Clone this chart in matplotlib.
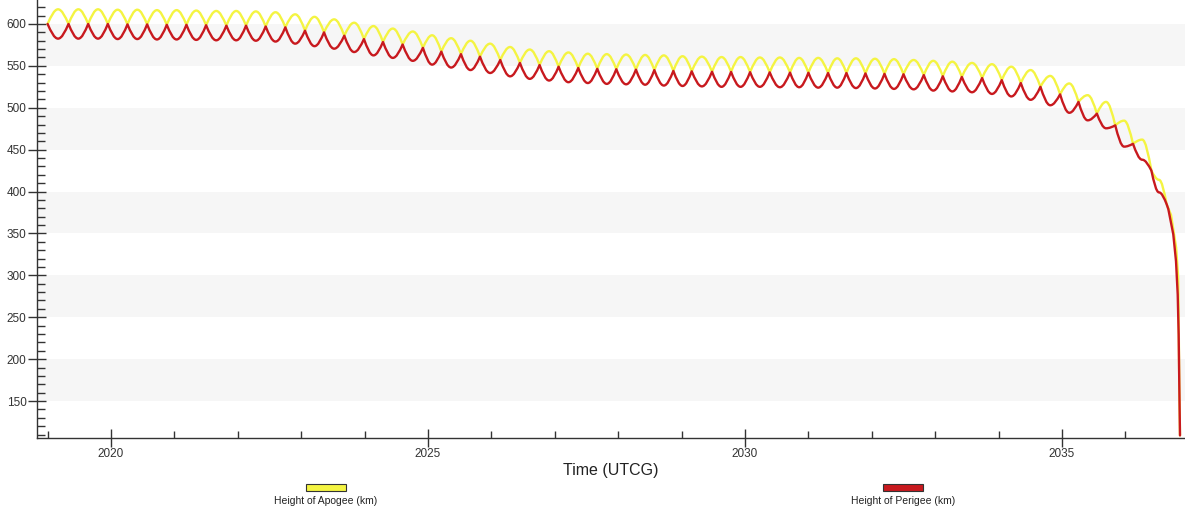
import matplotlib
matplotlib.use("Agg")
import matplotlib.pyplot as plt
from matplotlib.path import Path
from matplotlib.patches import PathPatch, Rectangle
from matplotlib.ticker import MultipleLocator

# ---------------- data ----------------
# times (decimal years) where apogee and perigee curves touch (e ~ 0)
cusp_year = [2019.00, 2019.33, 2019.64, 2019.95, 2020.26, 2020.57, 2020.88,
             2021.19, 2021.50, 2021.82, 2022.13, 2022.44, 2022.75, 2023.06,
             2023.36, 2023.68, 2023.99, 2024.29, 2024.60, 2024.92, 2025.21,
             2025.52, 2025.82, 2026.14, 2026.45, 2026.76, 2027.06, 2027.37,
             2027.67, 2027.97, 2028.28, 2028.57, 2028.87, 2029.16, 2029.48,
             2029.78, 2030.08, 2030.39, 2030.71, 2031.00, 2031.31, 2031.60,
             2031.90, 2032.20, 2032.50, 2032.82, 2033.12, 2033.42, 2033.74,
             2034.05, 2034.35, 2034.66, 2034.97, 2035.26, 2035.55, 2035.84,
             2036.12, 2036.41, 2036.65]
# altitude (km) at those touching points
cusp_alt = [600, 600, 600, 600, 599.5, 599.5, 599, 599, 598.5, 598, 598, 597,
            596, 592, 590, 586, 582, 578.5, 575.5, 571.5, 567, 564, 561, 557,
            553.5, 551, 549, 547.5, 546.5, 546, 545.5, 545, 544, 543.5, 543,
            542.8, 542.5, 542.3, 542, 541.8, 541.5, 541.5, 541, 540.5, 540,
            539, 537.6, 536.8, 535.5, 533, 529.5, 525, 516, 507, 493, 479,
            457, 425, 385]
# apogee maximum of each lobe (km)
apogee_peak = [617.5, 617.5, 617.5, 617, 617, 616.5, 616.5, 616, 615.5, 615.5,
               615, 614, 611.5, 608.5, 605.5, 601.5, 597.5, 594.5, 591, 586.5,
               583, 580, 576.5, 572.5, 569.5, 567.5, 566, 564.5, 564, 563.5,
               563, 562.5, 561.5, 561, 560.5, 560.5, 560, 560, 559.5, 559.5,
               559, 559, 558.5, 558, 557, 556, 555, 553.5, 552, 549, 545, 538,
               529, 515, 507, 484.6, 462, 414]
# perigee minimum of each lobe (km)
perigee_min = [582.5, 582.5, 582.5, 582, 582, 581.5, 581.5, 581, 580.5, 580.5,
               580, 579, 576.5, 573.5, 570.5, 566.5, 562.5, 559.5, 556, 551.5,
               548, 545, 541.5, 537.5, 534.5, 532.5, 530.5, 529.5, 528.5, 528,
               527.5, 526.5, 526, 525.5, 525, 525, 525, 524.5, 524.5, 524, 524,
               523.5, 523, 522.5, 522, 520.5, 519.5, 518.5, 516.5, 513.5, 509.5,
               503, 494, 485, 475.5, 453.6, 438, 399]
# final re-entry descent
apogee_tail_year = [2036.72, 2036.80, 2036.832, 2036.842, 2036.850, 2036.861]
apogee_tail_alt = [372, 333, 298, 229, 169, 109]
perigee_tail_year = [2036.677, 2036.755, 2036.798, 2036.825, 2036.840, 2036.850, 2036.861]
perigee_tail_alt = [379, 349, 317, 277, 229, 169, 109]

x_major_ticks = [2020, 2025, 2030, 2035]
series_labels = ["Height of Apogee (km)", "Height of Perigee (km)"]
apogee_color = "#F4F442"
perigee_color = "#C8191E"

plt.rcParams['font.family'] = ['Liberation Sans', 'DejaVu Sans']

fig = plt.figure(figsize=(11.85, 5.09), dpi=100)
ax = fig.add_axes([37 / 1185, 71 / 509, 1148 / 1185, 438 / 509])

xmin, xmax = 2018.833, 2036.94
ymin, ymax = 105.9, 628.6
ax.set_xlim(xmin, xmax)
ax.set_ylim(ymin, ymax)

# alternating background bands
for lo in range(150, 600, 100):
    ax.axhspan(lo, lo + 50, color="#F6F6F6", zorder=0, lw=0)


def lobe_path(years, cusps, extremes, tail_x, tail_y):
    verts = [(years[0], cusps[0])]
    codes = [Path.MOVETO]
    for i in range(len(extremes)):
        t0, t1 = years[i], years[i + 1]
        m0, m1 = cusps[i], cusps[i + 1]
        p = extremes[i]
        half = (t1 - t0) / 2
        tm = t0 + half
        verts += [(t0 + 0.3343 * half, m0 + 0.5251 * (p - m0)),
                  (t0 + 0.64 * half, p), (tm, p)]
        verts += [(tm + 0.36 * half, p),
                  (tm + 0.6657 * half, m1 + 0.5251 * (p - m1)), (t1, m1)]
        codes += [Path.CURVE4] * 6
    for tx, ty in zip(tail_x, tail_y):
        verts.append((tx, ty))
        codes.append(Path.LINETO)
    return Path(verts, codes)


ap = PathPatch(lobe_path(cusp_year, cusp_alt, apogee_peak, apogee_tail_year, apogee_tail_alt),
               facecolor="none", edgecolor=apogee_color, lw=1.7, zorder=3,
               capstyle="round", joinstyle="round")
pp = PathPatch(lobe_path(cusp_year, cusp_alt, perigee_min, perigee_tail_year, perigee_tail_alt),
               facecolor="none", edgecolor=perigee_color, lw=1.7, zorder=4,
               capstyle="round", joinstyle="round")
ax.add_patch(ap)
ax.add_patch(pp)

# axes styling
for s in ["top", "right"]:
    ax.spines[s].set_visible(False)
for s in ["left", "bottom"]:
    ax.spines[s].set_color("#333333")
    ax.spines[s].set_linewidth(1.0)

ax.yaxis.set_major_locator(MultipleLocator(50))
ax.yaxis.set_minor_locator(MultipleLocator(10))
ax.set_xticks(x_major_ticks)
ax.xaxis.set_minor_locator(MultipleLocator(1))

ax.tick_params(axis="y", which="major", direction="inout", length=13, width=1,
               color="#333333", labelsize=8.5, labelcolor="#333333", pad=1)
ax.tick_params(axis="y", which="minor", direction="in", length=6, width=1,
               color="#333333")
ax.tick_params(axis="x", which="major", direction="inout", length=13, width=1,
               color="#333333", labelsize=8.5, labelcolor="#333333", pad=1)
ax.tick_params(axis="x", which="minor", direction="in", length=5, width=1,
               color="#333333")

ax.set_xlabel("Time (UTCG)", fontsize=11.5, color="#222222", labelpad=2)

# legend (box above label, two entries spread apart)
for cx, col, lab in [(326, apogee_color, series_labels[0]),
                     (903, perigee_color, series_labels[1])]:
    fig.add_artist(Rectangle(((cx - 20) / 1185, (509 - 491) / 509), 40 / 1185, 7 / 509,
                             transform=fig.transFigure, facecolor=col,
                             edgecolor="#333333", lw=0.8))
    fig.text(cx / 1185, (509 - 501) / 509, lab, ha="center", va="center",
             fontsize=7.5, color="#222222")

fig.savefig("out.png", dpi=100)
